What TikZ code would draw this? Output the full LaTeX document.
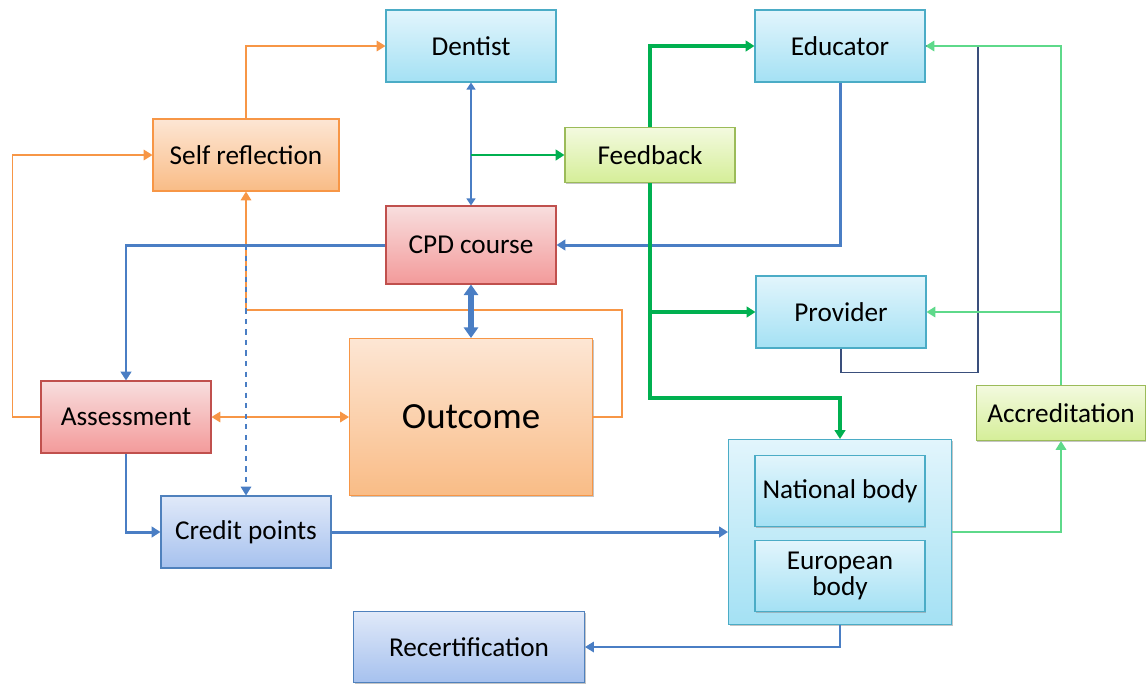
\documentclass[tikz,border=0pt]{standalone}
\usepackage{fontspec}
\setmainfont{Carlito}
\usepackage{tikz}
\usetikzlibrary{arrows.meta,positioning,shadows}

\definecolor{cyanedge}{HTML}{4BACC6}
\definecolor{cyantop}{HTML}{E2F5FC}
\definecolor{cyanbot}{HTML}{A4E1F4}
\definecolor{orangeedge}{HTML}{F79646}
\definecolor{orangetop}{HTML}{FDE6D4}
\definecolor{orangebot}{HTML}{F9BC86}
\definecolor{rededge}{HTML}{C0504D}
\definecolor{redtop}{HTML}{F8DEDE}
\definecolor{redbot}{HTML}{F39A9A}
\definecolor{greenedge}{HTML}{9BBB59}
\definecolor{greentop}{HTML}{F3FADF}
\definecolor{greenbot}{HTML}{D5EE98}
\definecolor{blueedge}{HTML}{4F81BD}
\definecolor{bluetop}{HTML}{E0E9F9}
\definecolor{bluebot}{HTML}{A6C1EE}
\definecolor{linkblue}{HTML}{4A7EC4}
\definecolor{linkgreen}{HTML}{00B050}
\definecolor{linklight}{HTML}{5ED98A}
\definecolor{linknavy}{HTML}{3A4F7C}

\begin{document}
\begin{tikzpicture}[
    x=0.02cm, y=-0.02cm,
    box/.style={draw, line width=0.6pt, align=center, inner sep=2pt,
                minimum width=3.4cm, minimum height=1.44cm,
                font=\fontsize{15.5}{18}\selectfont,
                drop shadow={shadow xshift=0.8pt, shadow yshift=-0.8pt, fill=black!45, opacity=0.5}},
    cyanbox/.style={box, draw=cyanedge, top color=cyantop, bottom color=cyanbot},
    orangebox/.style={box, draw=orangeedge, top color=orangetop, bottom color=orangebot},
    redbox/.style={box, draw=rededge, top color=redtop, bottom color=redbot},
    greenbox/.style={box, draw=greenedge, top color=greentop, bottom color=greenbot},
    bluebox/.style={box, draw=blueedge, top color=bluetop, bottom color=bluebot},
    tip/.style={-{Triangle[width=6pt,length=5pt]}},
    blueline/.style={draw=linkblue, line width=1.7pt},
    bluethick/.style={draw=linkblue, line width=3pt},
    bluethin/.style={draw=linkblue, line width=0.7pt},
    orangeline/.style={draw=orangeedge, line width=0.8pt},
    greenline/.style={draw=linkgreen, line width=1.6pt},
    greenthick/.style={draw=linkgreen, line width=2.3pt},
    lightline/.style={draw=linklight, line width=0.9pt},
    navyline/.style={draw=linknavy, line width=0.7pt}
]
\useasboundingbox (0,0) rectangle (1146,687);

% boxes
\node[cyanbox] (dentist) at (471,46) {Dentist};
\node[cyanbox] (educator) at (840,46) {Educator};
\node[orangebox, minimum width=3.72cm] (self) at (246,155) {Self reflection};
\node[greenbox, minimum height=1.1cm] (feedback) at (650,155) {Feedback};
\node[redbox, minimum height=1.56cm] (cpd) at (471,245) {CPD course};
\node[cyanbox] (provider) at (841,312) {Provider};
\node[redbox] (assess) at (126,417) {Assessment};
\node[orangebox, minimum width=4.86cm, minimum height=3.14cm,
      font=\fontsize{21}{24}\selectfont] (outcome) at (471,417) {Outcome};
\node[greenbox, minimum height=1.1cm] (accr) at (1061,413) {Accreditation};
\node[bluebox] (credit) at (246,532) {Credit points};
\node[cyanbox, minimum width=4.46cm, minimum height=3.7cm] (bodies) at (840,532) {};
\node[cyanbox, minimum height=1.42cm] (national) at (840,491) {National body};
\node[cyanbox, minimum height=1.42cm,
      font=\fontsize{15.5}{14.5}\selectfont] (european) at (840,576) {European\\body};
\node[bluebox, minimum width=4.62cm, minimum height=1.42cm] (recert) at (469,647) {Recertification};

% orange links
\draw[orangeline, tip] (self.north) |- (dentist.west);
\draw[orangeline, tip] (assess.west) -- ++(-28,0) |- (self.west);
\draw[orangeline, tip] (outcome.east) -- ++(29,0) -- ++(0,-107) -| (self.south);
\draw[orangeline, {Triangle[width=6pt,length=5pt]}-{Triangle[width=6pt,length=5pt]}] (assess.east) -- (outcome.west);

% blue links
\draw[blueline, tip] (cpd.west) -| (assess.north);
\coordinate (tap) at (credit.north |- cpd.west);
\draw[bluethin, dashed, tip] (tap) -- (credit.north);
\draw[blueline, {Triangle[width=5pt,length=4pt]}-{Triangle[width=5pt,length=4pt]}] (dentist.south) -- (cpd.north);
\draw[bluethick, {Triangle[width=8pt,length=6pt]}-{Triangle[width=8pt,length=6pt]}] (cpd.south) -- (outcome.north);
\draw[blueline, tip] (educator.south) |- (cpd.east);
\draw[blueline, tip] (assess.south) |- (credit.west);
\draw[blueline, tip] (credit.east) -- (bodies.west);
\draw[bluethin, tip] (bodies.south) |- (recert.east);

% green links
\draw[greenline, tip] (dentist.south |- feedback.west) -- (feedback.west);
\draw[greenthick, tip] (feedback.north) |- (educator.west);
\draw[greenthick, tip] (feedback.south) -- ++(0,215) -| (bodies.north);
\draw[greenthick, tip] (feedback.south |- provider.west) -- (provider.west);

% right side
\draw[navyline] (provider.south) -- ++(0,24) -- ++(137,0) |- (educator.east);
\draw[lightline, tip] (accr.north) |- (educator.east);
\draw[lightline, tip] (accr.north |- provider.east) -- (provider.east);
\draw[lightline, tip] (bodies.east) -| (accr.south);

\end{tikzpicture}
\end{document}
